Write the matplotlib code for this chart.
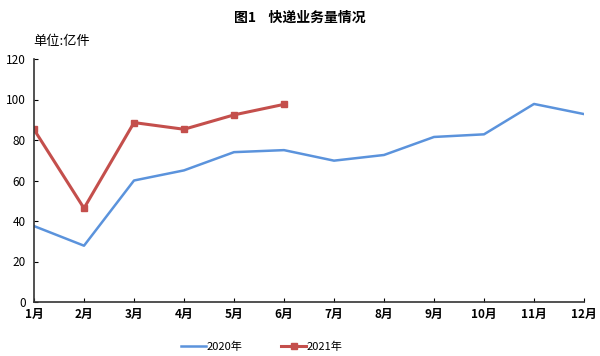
import matplotlib
matplotlib.use("Agg")
import matplotlib.pyplot as plt

plt.rcParams["font.family"] = ["Noto Sans CJK SC", "DejaVu Sans"]

months = ["1月", "2月", "3月", "4月", "5月", "6月", "7月", "8月", "9月", "10月", "11月", "12月"]
y2020 = [37.5, 27.8, 60.0, 65.0, 74.0, 75.0, 69.8, 72.6, 81.5, 82.8, 97.8, 92.8]
y2021 = [85.2, 46.3, 88.6, 85.3, 92.4, 97.6]

fig = plt.figure(figsize=(6.0, 3.56), dpi=100)
ax = fig.add_axes([34 / 600, 1 - 302 / 356, 550 / 600, 243 / 356])

x20 = list(range(len(y2020)))
x21 = list(range(len(y2021)))
ax.plot(x20, y2020, color="#5b93dc", lw=1.8, label="2020年")
ax.plot(x21, y2021, color="#c44f4c", lw=2.2, marker="s", ms=5, label="2021年")

ax.set_xlim(0, 11)
ax.set_ylim(0, 120)
ax.set_yticks(range(0, 121, 20))
ax.set_xticks(x20)
ax.set_xticklabels(months, fontsize=8.5, fontweight="bold")
ax.tick_params(axis="y", labelsize=8.5, direction="in", length=3, pad=6)
ax.tick_params(axis="x", direction="in", length=3, pad=4)
for s in ("top", "right"):
    ax.spines[s].set_visible(False)
for s in ("left", "bottom"):
    ax.spines[s].set_linewidth(1.2)
    ax.spines[s].set_color("#333333")

fig.text(0.5, 1 - 18 / 356, "图1    快递业务量情况", ha="center", va="center",
         fontsize=10, fontweight="bold")
fig.text(33 / 600, 1 - 42 / 356, "单位:亿件", ha="left", va="center", fontsize=9.5)

fig.legend(loc="center", bbox_to_anchor=(262 / 600, 1 - 347 / 356), ncol=2, frameon=False,
           fontsize=8, handlelength=2.2, columnspacing=3.5, handletextpad=0.1)

fig.savefig("out.png", dpi=100)
